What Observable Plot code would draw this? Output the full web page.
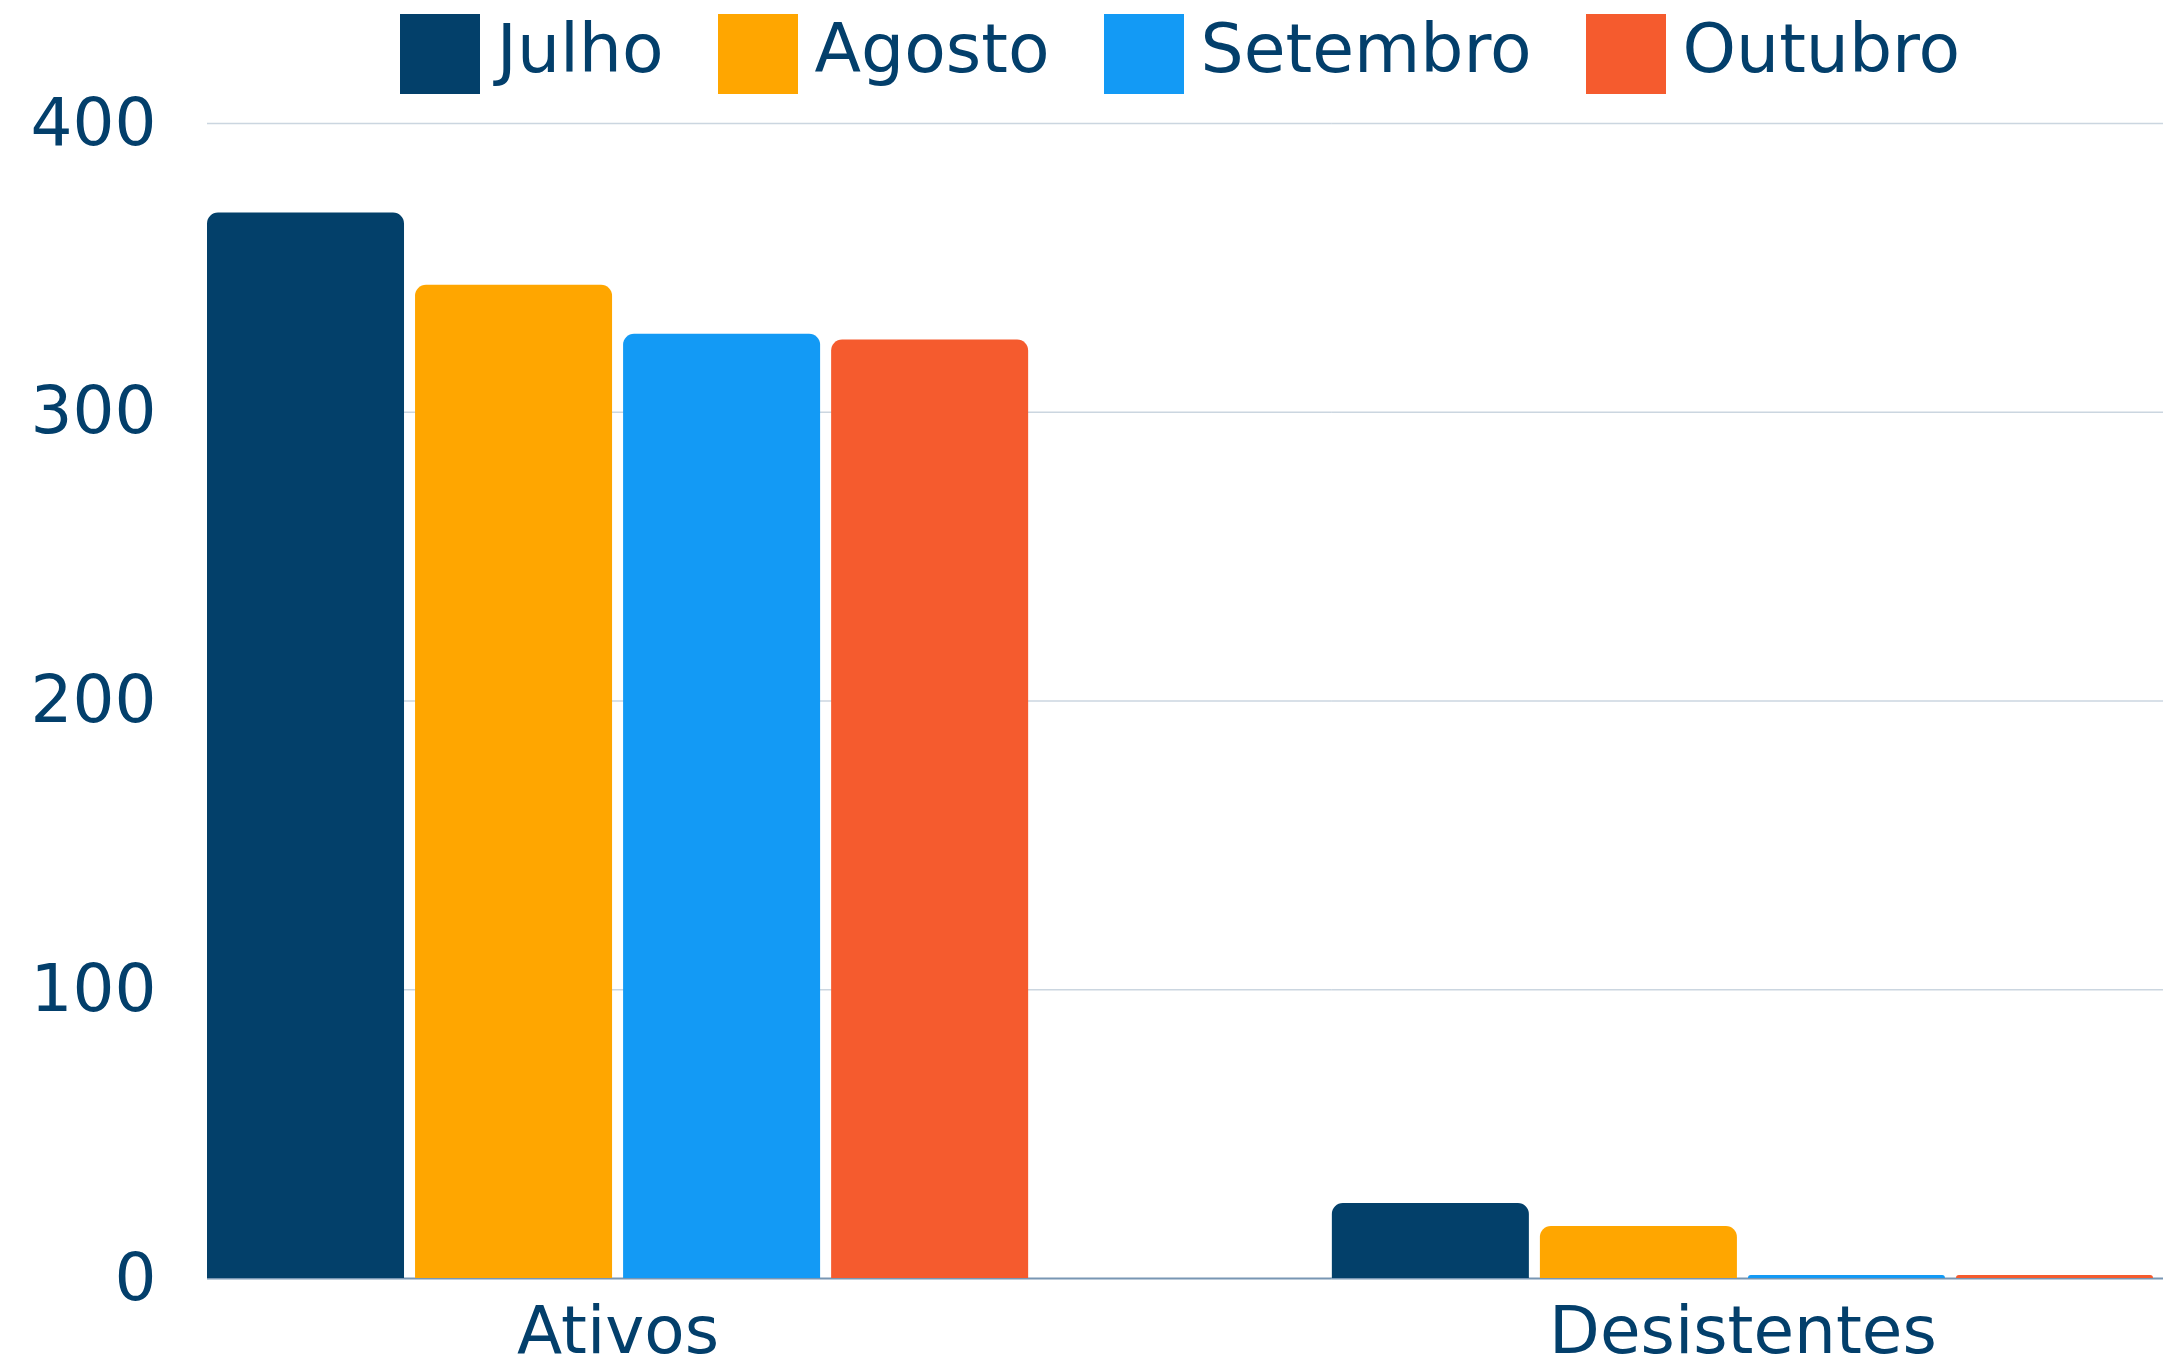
<!DOCTYPE html>
<html>
<head>
<meta charset="utf-8">
<script src="https://cdn.jsdelivr.net/npm/d3@7"></script>
<script src="https://cdn.jsdelivr.net/npm/@observablehq/plot@0.6"></script>
<style>
  html, body { margin: 0; padding: 0; background: #ffffff; }
  body { width: 2163px; height: 1370px; overflow: hidden; font-family: "DejaVu Sans", sans-serif; color: #033F6B; }
  #legend { height: 70px; overflow: visible; display: flex; align-items: flex-start; justify-content: center; margin-left: 207px; margin-right: 10px; padding-top: 14px; box-sizing: border-box; position: relative; z-index: 1; }
  .item { display: flex; align-items: center; margin: 0 27px; }
  .sw { width: 80px; height: 80px; margin-right: 17px; flex: none; }
  .lb { font-size: 68px; line-height: 80px; position: relative; top: -5px; white-space: nowrap; }
</style>
</head>
<body>
<div id="legend"></div>
<div id="chart"></div>
<script>
const categories = ["Ativos", "Desistentes"];
const months = ["Julho", "Agosto", "Setembro", "Outubro"];
const colors = ["#03406A", "#FFA600", "#139AF5", "#F55B2E"];
const ativos = [369, 344, 327, 325];
const desistentes = [26, 18, 1, 1];
const yTicks = [0, 100, 200, 300, 400];

const series = {Ativos: ativos, Desistentes: desistentes};
const data = [];
for (const c of categories) months.forEach((m, i) => data.push({category: c, month: m, value: series[c][i]}));

const legend = document.getElementById("legend");
months.forEach((m, i) => {
  const it = document.createElement("div");
  it.className = "item";
  it.innerHTML = `<div class="sw" style="background:${colors[i]}"></div><div class="lb">${m}</div>`;
  legend.appendChild(it);
});

const fxPadding = 0.27;
// gap between the two facet bands, so the horizontal rules run through it
const plotW = 2163 - 207 - 10;
const fxStep = plotW / (2 - fxPadding);
const gap = fxStep * fxPadding;

const chart = Plot.plot({
  width: 2163,
  height: 1300,
  marginTop: 53,
  marginBottom: 92,
  marginLeft: 207,
  marginRight: 10,
  style: {fontFamily: "DejaVu Sans", fontSize: "66px", color: "#033F6B", background: "transparent"},
  fx: {domain: categories, label: null, tickSize: 0, tickPadding: 28, paddingInner: fxPadding, paddingOuter: 0, round: false},
  x: {domain: months, axis: null, paddingInner: 0.053, paddingOuter: 0, round: false},
  y: {domain: [0, 400], ticks: yTicks, tickSize: 0, tickPadding: 51, label: null},
  color: {domain: months, range: colors},
  marks: [
    Plot.ruleY(yTicks.filter(d => d > 0), {stroke: "#cbd6e0", strokeWidth: 1.5, insetRight: -gap}),
    Plot.ruleY([0], {stroke: "#7896b3", strokeWidth: 2, insetRight: -gap}),
    Plot.barY(data, {fx: "category", x: "month", y: "value", fill: "month", ry1: 11})
  ]
});
document.getElementById("chart").appendChild(chart);
</script>
</body>
</html>
